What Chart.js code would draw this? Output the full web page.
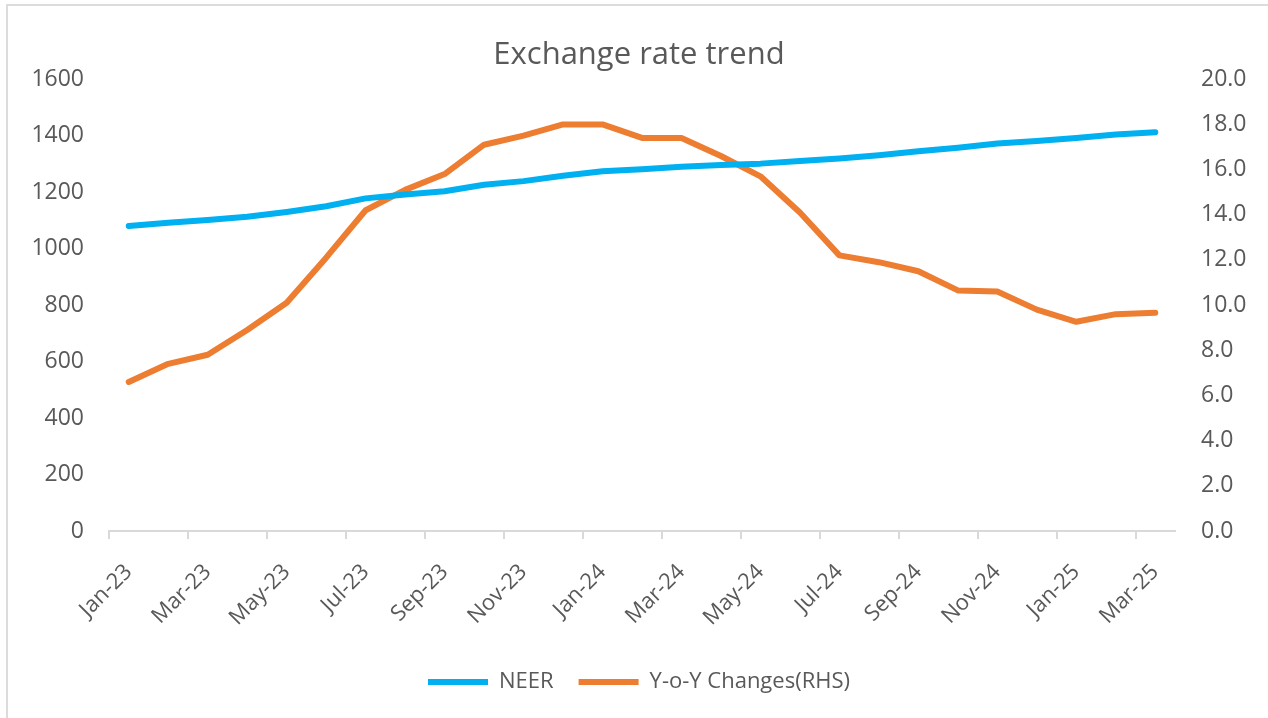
<!DOCTYPE html>
<html>
<head>
<meta charset="utf-8">
<title>Exchange rate trend</title>
<script src="https://cdn.jsdelivr.net/npm/chart.js@4.4.1/dist/chart.umd.min.js"></script>
<style>
  html, body { margin: 0; padding: 0; background: #ffffff; overflow: hidden; }
  #frame { position: absolute; left: 6px; top: 4px; width: 1290px; height: 740px; border: 2px solid #dcdcdc; }
  #wrap { position: absolute; left: 0; top: 0; width: 1268px; height: 718px; }
</style>
</head>
<body>
<div id="frame"></div>
<div id="wrap"><canvas id="rateChart" width="1268" height="718"></canvas></div>
<script>
// data
const months = ['Jan-23', 'Feb-23', 'Mar-23', 'Apr-23', 'May-23', 'Jun-23', 'Jul-23', 'Aug-23', 'Sep-23',
    'Oct-23', 'Nov-23', 'Dec-23', 'Jan-24', 'Feb-24', 'Mar-24', 'Apr-24', 'May-24', 'Jun-24',
    'Jul-24', 'Aug-24', 'Sep-24', 'Oct-24', 'Nov-24', 'Dec-24', 'Jan-25', 'Feb-25', 'Mar-25'];
const neer = [1080, 1092, 1101, 1113, 1130, 1150, 1178, 1192, 1203, 1226, 1239, 1258, 1274, 1281, 1290,
    1296, 1301, 1310, 1319, 1331, 1345, 1357, 1372, 1381, 1392, 1404, 1412];
const yoyChange = [6.6, 7.4, 7.8, 8.9, 10.1, 12.1, 14.2, 15.1, 15.8, 17.1, 17.5, 18.0, 18.0, 17.4, 17.4,
    16.6, 15.7, 14.1, 12.2, 11.9, 11.5, 10.65, 10.6, 9.8, 9.26, 9.6, 9.66];
const leftTicks = [0, 200, 400, 600, 800, 1000, 1200, 1400, 1600];
const rightTicks = [0, 2, 4, 6, 8, 10, 12, 14, 16, 18, 20];

const textColor = '#595959';
const fontFamily = "'Open Sans', 'Noto Sans', sans-serif";

function drawRateChart() {
    const ctx = document.getElementById('rateChart');
    if (!ctx) {
        console.error('canvas rateChart tidak ditemukan');
        return;
    }
    new Chart(ctx.getContext('2d'), {
        type: 'line',
        data: {
            labels: months,
            datasets: [{
                label: 'NEER',
                data: neer,
                yAxisID: 'y',
                borderColor: '#00b0f0',
                backgroundColor: '#00b0f0',
                borderWidth: 6,
                borderCapStyle: 'round',
                borderJoinStyle: 'round',
                pointRadius: 0,
                tension: 0
            }, {
                label: 'Y-o-Y Changes(RHS)',
                data: yoyChange,
                yAxisID: 'y1',
                borderColor: '#ed7d31',
                backgroundColor: '#ed7d31',
                borderWidth: 6,
                borderCapStyle: 'round',
                borderJoinStyle: 'round',
                pointRadius: 0,
                tension: 0
            }]
        },
        options: {
            responsive: false,
            animation: false,
            layout: { padding: { left: 20, right: 10, top: 0, bottom: 15 } },
            plugins: {
                title: {
                    display: true,
                    text: 'Exchange rate trend',
                    color: textColor,
                    font: { family: fontFamily, size: 31, weight: 'normal' },
                    padding: { top: 37, bottom: 5 }
                },
                legend: {
                    position: 'bottom',
                    labels: {
                        color: textColor,
                        font: { family: fontFamily, size: 22 },
                        usePointStyle: true,
                        pointStyle: 'line',
                        pointStyleWidth: 60,
                        padding: 25
                    }
                },
                tooltip: { enabled: false }
            },
            scales: {
                x: {
                    offset: true,
                    border: { display: true, color: '#d9d9d9', width: 2 },
                    grid: {
                        offset: true,
                        drawOnChartArea: false,
                        drawTicks: true,
                        tickLength: 8,
                        lineWidth: 2,
                        color: (c) => (c.index % 2 === 0 ? '#d9d9d9' : 'rgba(0,0,0,0)')
                    },
                    ticks: {
                        autoSkip: false,
                        minRotation: 45,
                        maxRotation: 45,
                        color: textColor,
                        font: { family: fontFamily, size: 22 },
                        padding: 20,
                        callback: function (val, i) { return i % 2 === 0 ? months[i] : ''; }
                    },
                    afterFit: (scale) => { scale.height = 115; }
                },
                y: {
                    position: 'left',
                    min: 0,
                    max: 1600,
                    afterBuildTicks: (scale) => { scale.ticks = leftTicks.map(v => ({ value: v })); },
                    border: { display: false },
                    grid: { display: false, drawTicks: false },
                    ticks: {
                        color: textColor,
                        font: { family: fontFamily, size: 23 },
                        padding: 25,
                        callback: (v) => String(v)
                    },
                    afterFit: (scale) => { scale.width = 89; }
                },
                y1: {
                    position: 'right',
                    min: 0,
                    max: 20,
                    afterBuildTicks: (scale) => { scale.ticks = rightTicks.map(v => ({ value: v })); },
                    border: { display: false },
                    grid: { display: false, drawTicks: false },
                    ticks: {
                        color: textColor,
                        font: { family: fontFamily, size: 23 },
                        padding: 26,
                        callback: (v) => Number(v).toFixed(1)
                    },
                    afterFit: (scale) => { scale.width = 83; }
                }
            }
        }
    });
}

drawRateChart();
</script>
</body>
</html>
